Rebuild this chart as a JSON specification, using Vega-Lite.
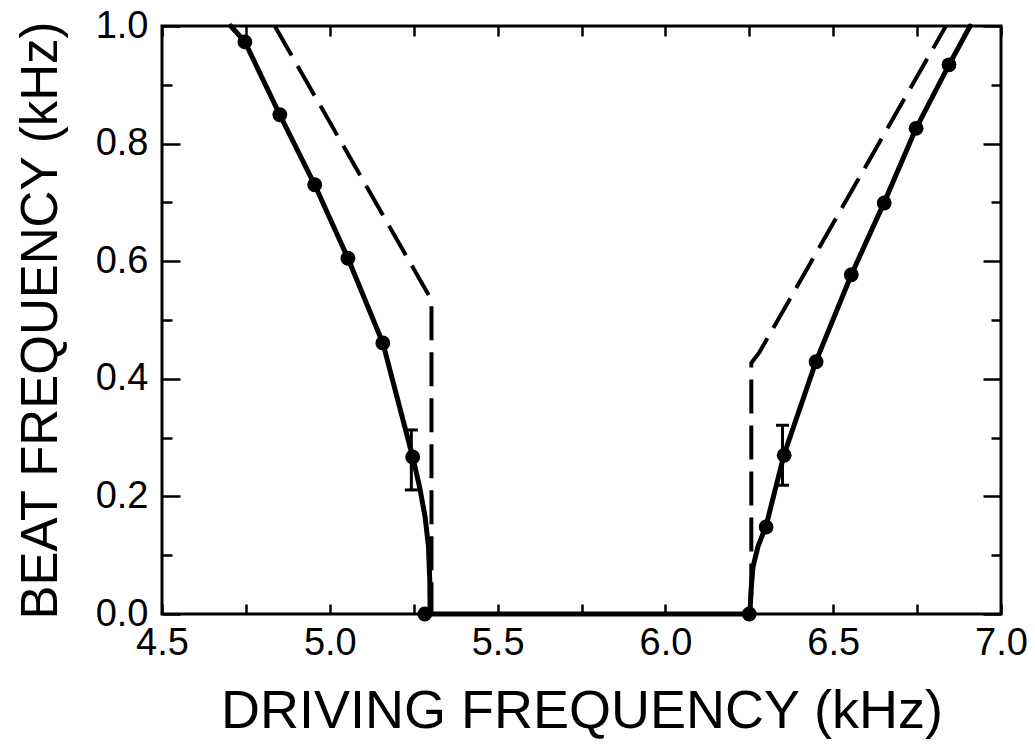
{
  "$schema": "https://vega.github.io/schema/vega-lite/v6.json",
  "width": 839,
  "height": 588,
  "autosize": {"type": "none"},
  "padding": {"left": 162, "top": 26, "right": 34, "bottom": 132},
  "background": "white",
  "config": {
    "view": {"stroke": "black", "strokeWidth": 3},
    "font": "Liberation Sans",
    "axis": {
      "domain": false,
      "grid": false,
      "tickColor": "black",
      "tickWidth": 2.5,
      "labelColor": "black",
      "labelFont": "Liberation Sans",
      "labelFontSize": 38,
      "labelFlush": false,
      "labelOverlap": false,
      "titleColor": "black",
      "titleFont": "Liberation Sans",
      "titleFontWeight": "normal"
    }
  },
  "datasets": {
    "solid": [
      {"i": 1, "f": 4.705, "b": 1.0},
      {"i": 2, "f": 4.747, "b": 0.973},
      {"i": 3, "f": 4.851, "b": 0.849},
      {"i": 4, "f": 4.955, "b": 0.73},
      {"i": 5, "f": 5.054, "b": 0.605},
      {"i": 6, "f": 5.158, "b": 0.461},
      {"i": 7, "f": 5.247, "b": 0.267},
      {"i": 8, "f": 5.268, "b": 0.215},
      {"i": 9, "f": 5.284, "b": 0.165},
      {"i": 10, "f": 5.294, "b": 0.115},
      {"i": 11, "f": 5.298, "b": 0.055},
      {"i": 12, "f": 5.299, "b": 0.0},
      {"i": 13, "f": 6.252, "b": 0.0},
      {"i": 14, "f": 6.255, "b": 0.04},
      {"i": 15, "f": 6.261, "b": 0.08},
      {"i": 16, "f": 6.276, "b": 0.115},
      {"i": 17, "f": 6.3, "b": 0.15},
      {"i": 18, "f": 6.354, "b": 0.272},
      {"i": 19, "f": 6.449, "b": 0.43},
      {"i": 20, "f": 6.554, "b": 0.577},
      {"i": 21, "f": 6.652, "b": 0.7},
      {"i": 22, "f": 6.747, "b": 0.826},
      {"i": 23, "f": 6.845, "b": 0.934},
      {"i": 24, "f": 6.908, "b": 1.0}
    ],
    "dashed": [
      {"i": 1, "f": 4.836, "b": 1.0},
      {"i": 2, "f": 5.277, "b": 0.56},
      {"i": 3, "f": 5.303, "b": 0.534},
      {"i": 4, "f": 5.303, "b": 0.0},
      {"i": 5, "f": 6.256, "b": 0.0},
      {"i": 6, "f": 6.256, "b": 0.427},
      {"i": 7, "f": 6.28, "b": 0.445},
      {"i": 8, "f": 6.836, "b": 1.0}
    ],
    "dots": [
      {"f": 4.747, "b": 0.973},
      {"f": 4.851, "b": 0.849},
      {"f": 4.955, "b": 0.73},
      {"f": 5.054, "b": 0.605},
      {"f": 5.158, "b": 0.461},
      {"f": 5.247, "b": 0.267},
      {"f": 5.283, "b": 0.0},
      {"f": 6.25, "b": 0.0},
      {"f": 6.3, "b": 0.148},
      {"f": 6.354, "b": 0.27},
      {"f": 6.449, "b": 0.429},
      {"f": 6.554, "b": 0.577},
      {"f": 6.652, "b": 0.699},
      {"f": 6.747, "b": 0.826},
      {"f": 6.845, "b": 0.934}
    ],
    "errs": [
      {"f": 5.243, "lo": 0.211, "hi": 0.313},
      {"f": 6.349, "lo": 0.219, "hi": 0.321}
    ]
  },
  "resolve": {"axis": {"x": "independent", "y": "independent"}},
  "layer": [
    {
      "data": {"name": "solid"},
      "mark": {"type": "line", "color": "black", "strokeWidth": 5, "strokeJoin": "round", "strokeCap": "round"},
      "encoding": {
        "x": {
          "field": "f", "type": "quantitative",
          "scale": {"domain": [4.5, 7.0], "nice": false, "zero": false},
          "axis": {
            "orient": "bottom",
            "values": [4.5, 4.75, 5.0, 5.25, 5.5, 5.75, 6.0, 6.25, 6.5, 6.75, 7.0],
            "tickSize": -10,
            "labelPadding": 20,
            "labelExpr": "(datum.value * 2) % 1 == 0 ? format(datum.value, '.1f') : ''",
            "title": "DRIVING FREQUENCY (kHz)",
            "titleFontSize": 54,
            "titlePadding": 22
          }
        },
        "y": {
          "field": "b", "type": "quantitative",
          "scale": {"domain": [0, 1], "nice": false},
          "axis": {
            "orient": "left",
            "values": [0, 0.2, 0.4, 0.6, 0.8, 1.0],
            "format": ".1f",
            "tickSize": -18,
            "labelPadding": 32,
            "title": "BEAT FREQUENCY (kHz)",
            "titleFontSize": 51,
            "titlePadding": 28
          }
        },
        "order": {"field": "i"}
      }
    },
    {
      "data": {"name": "dashed"},
      "mark": {"type": "line", "color": "black", "strokeWidth": 4, "strokeDash": [34, 12]},
      "encoding": {
        "x": {
          "field": "f", "type": "quantitative",
          "scale": {"domain": [4.5, 7.0], "nice": false, "zero": false},
          "axis": {
            "orient": "top",
            "values": [4.5, 4.75, 5.0, 5.25, 5.5, 5.75, 6.0, 6.25, 6.5, 6.75, 7.0],
            "tickSize": -10,
            "labels": false,
            "title": null
          }
        },
        "y": {
          "field": "b", "type": "quantitative",
          "scale": {"domain": [0, 1], "nice": false},
          "axis": {
            "orient": "right",
            "values": [0, 0.2, 0.4, 0.6, 0.8, 1.0],
            "tickSize": -18,
            "labels": false,
            "title": null
          }
        },
        "order": {"field": "i"}
      }
    },
    {
      "data": {"name": "dots"},
      "mark": {"type": "point", "filled": true, "color": "black", "opacity": 1, "size": 220},
      "encoding": {
        "x": {"field": "f", "type": "quantitative", "scale": {"domain": [4.5, 7.0], "nice": false, "zero": false}, "axis": null},
        "y": {
          "field": "b", "type": "quantitative",
          "scale": {"domain": [0, 1], "nice": false},
          "axis": {
            "orient": "left",
            "values": [0.1, 0.3, 0.5, 0.7, 0.9],
            "tickSize": -10,
            "labels": false,
            "title": null
          }
        }
      }
    },
    {
      "data": {"name": "errs"},
      "mark": {"type": "rule", "color": "black", "strokeWidth": 3, "opacity": 1},
      "encoding": {
        "x": {"field": "f", "type": "quantitative", "scale": {"domain": [4.5, 7.0], "nice": false, "zero": false}, "axis": null},
        "y": {
          "field": "lo", "type": "quantitative",
          "scale": {"domain": [0, 1], "nice": false},
          "axis": {
            "orient": "right",
            "values": [0.1, 0.3, 0.5, 0.7, 0.9],
            "tickSize": -10,
            "labels": false,
            "title": null
          }
        },
        "y2": {"field": "hi"}
      }
    },
    {
      "data": {"name": "errs"},
      "transform": [{"fold": ["lo", "hi"], "as": ["end", "v"]}],
      "mark": {"type": "tick", "orient": "horizontal", "color": "black", "opacity": 1, "size": 13, "thickness": 3},
      "encoding": {
        "x": {"field": "f", "type": "quantitative", "scale": {"domain": [4.5, 7.0], "nice": false, "zero": false}, "axis": null},
        "y": {"field": "v", "type": "quantitative", "scale": {"domain": [0, 1], "nice": false}, "axis": null}
      }
    }
  ]
}
